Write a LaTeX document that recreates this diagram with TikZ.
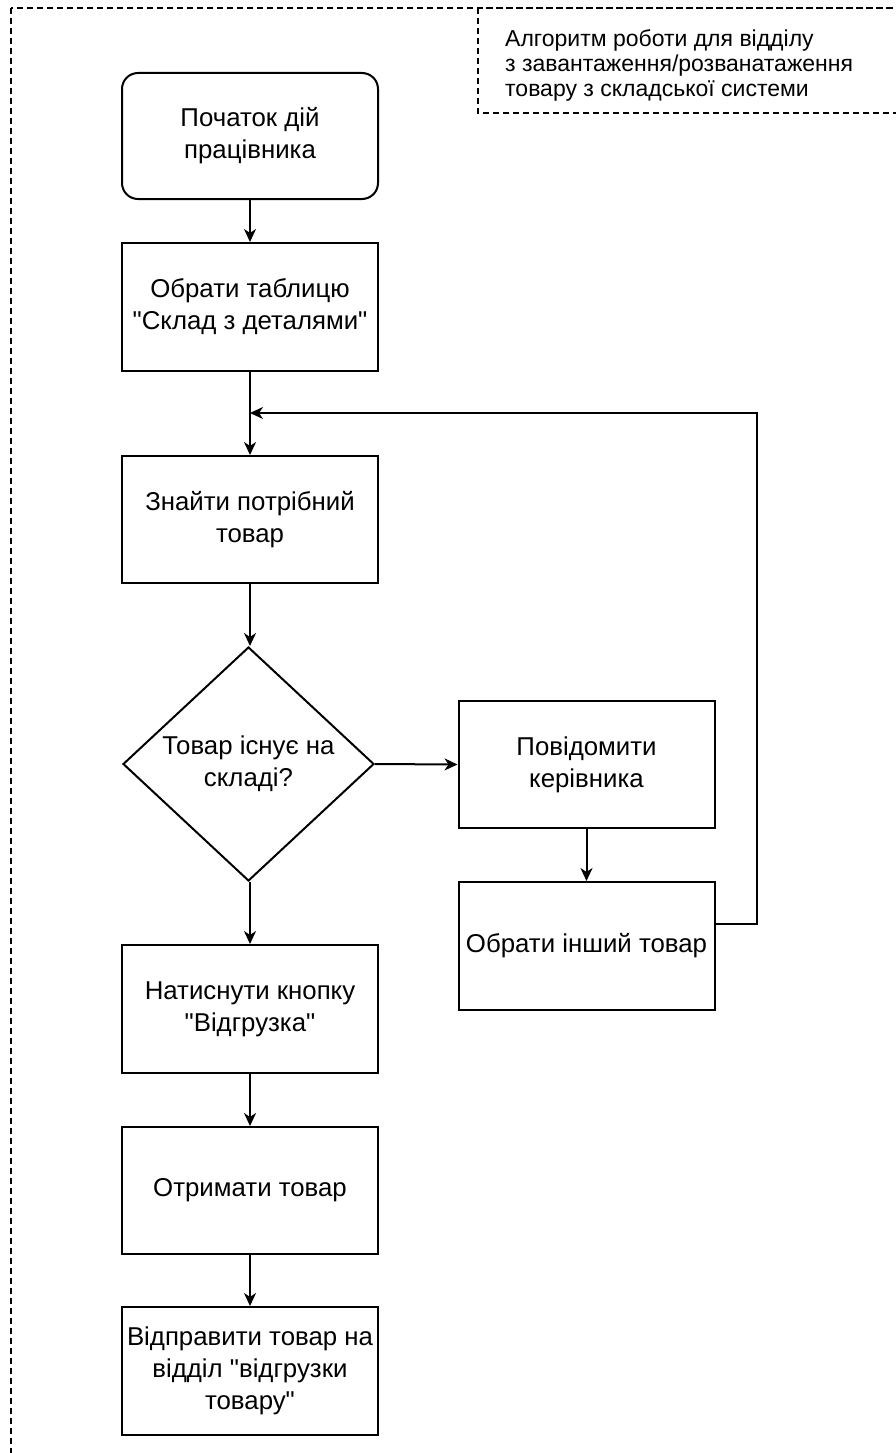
\documentclass[tikz,border=0pt]{standalone}
\usepackage{fontspec}
\setmainfont{Liberation Sans}[Ligatures=TeXOff]
\usetikzlibrary{arrows.meta,shapes.geometric}
\begin{document}
\begin{tikzpicture}[x=1pt,y=-1pt,
  box/.style={draw,line width=2pt,minimum width=256pt,align=center,inner sep=2pt,
    font=\fontsize{25.8}{32}\selectfont},
  decision/.style={draw,diamond,line width=2pt,minimum width=251pt,minimum height=234pt,
    align=center,inner sep=0pt,font=\fontsize{25.8}{32}\selectfont},
  arr/.style={line width=2pt,-{Stealth[length=13pt,width=12pt,inset=4pt]}},
  frame/.style={draw,line width=1.4pt,dash pattern=on 6pt off 4pt}]
\useasboundingbox (0,0) rectangle (896,1453);
\clip (0,0) rectangle (896,1453);
\fill[white] (0,0) rectangle (896,1453);
% outer dashed frame
\path[frame] (11,8) rectangle (910,1470);
% title box
\path[frame] (478,8) rectangle (910,113);
\node[anchor=west,align=left,inner sep=0pt,font=\fontsize{23}{25}\selectfont] (title) at (505,65)
  {Алгоритм роботи для відділу\\з завантаження/розванатаження\\товару з складської системи};
% nodes
\node[box,rounded corners=16pt,minimum height=126pt] (start) at (250,136) {Початок дій\\працівника};
\node[box,minimum height=128pt] (b2) at (250,307) {Обрати таблицю\\"Склад з деталями"};
\node[box,minimum height=127pt] (b3) at (250,519.5) {Знайти потрібний\\товар};
\node[decision] (dia) at (248.5,764) {Товар існує на\\складі?};
\node[box,minimum height=127pt] (b4) at (586.5,764.5) {Повідомити\\керівника};
\node[box,minimum height=128pt] (b5) at (586.5,946) {Обрати інший товар};
\node[box,minimum height=128pt] (b6) at (250,1009) {Натиснути кнопку\\"Відгрузка"};
\node[box,minimum height=127pt] (b7) at (250,1190.5) {Отримати товар};
\node[box,minimum height=128pt] (b8) at (250,1371) {Відправити товар на\\відділ "відгрузки\\товару"};
\coordinate (jn) at (250,413);
\coordinate (loopc) at (757,413);
% connectors
\draw[arr] (start) -- (b2);
\draw[arr] (b2) -- (b3);
\draw[arr] (b3) -- (b3 |- dia.north);
\draw[arr] (b6 |- dia.south) -- (b6);
\draw[arr] (b6) -- (b7);
\draw[arr] (b7) -- (b8);
\draw[arr] (dia.east) -- (b4.west);
\draw[arr] (b4) -- (b5);
\draw[arr] ([yshift=22pt]b5.east) -| (loopc) -- (jn);
\end{tikzpicture}
\end{document}
